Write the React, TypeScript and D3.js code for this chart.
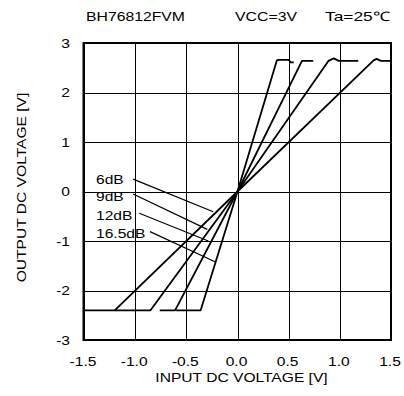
import React from "react";
import * as d3 from "d3";

// ---- data ----
const xTicks = [-1.5, -1.0, -0.5, 0.0, 0.5, 1.0, 1.5];
const yTicks = [3, 2, 1, 0, -1, -2, -3];
const seriesNames = ["6dB", "9dB", "12dB", "16.5dB"];
const curve6dB: [number, number][] = [[-1.5, -2.4], [-1.2, -2.4], [0, 0], [1.33, 2.65], [1.36, 2.68], [1.40, 2.64], [1.5, 2.64]];
const curve9dB: [number, number][] = [[-1.2, -2.4], [-0.85, -2.4], [0, 0], [0.89, 2.64], [0.94, 2.69], [0.99, 2.64], [1.18, 2.64]];
const curve12dB: [number, number][] = [[-0.76, -2.4], [-0.61, -2.4], [0, 0], [0.63, 2.64], [0.74, 2.64]];
const curve16dB: [number, number][] = [[-0.6, -2.4], [-0.36, -2.4], [0, 0], [0.385, 2.65], [0.40, 2.66], [0.50, 2.66], [0.52, 2.61], [0.55, 2.61]];
const curves = [curve6dB, curve9dB, curve12dB, curve16dB];
// leader lines: [label-side point, curve-side point] in data units
const leaders: [number, number, number, number][] = [
  [-1.02, 0.25, -0.237, -0.41],
  [-1.02, -0.05, -0.295, -0.765],
  [-0.96, -0.44, -0.285, -1.0],
  [-0.855, -0.81, -0.22, -1.42],
];
const labelY = [0.15, -0.2, -0.57, -0.93];
const titleTexts = ["BH76812FVM", "VCC=3V", "Ta=25℃"];

const W = 404, H = 396;
const L = 84, R = 391, T = 43, B = 340;
const FONT = "'Liberation Sans', Arial, sans-serif";
const SX = 1.2;

function SText({ x, y, anchor = "start", children, size = 13 }: any) {
  return (
    <text transform={`translate(${x},${y}) scale(${SX},1)`} textAnchor={anchor} fontSize={size} fontFamily={FONT} fill="#000">
      {children}
    </text>
  );
}

export default function App() {
  const x = d3.scaleLinear().domain([-1.5, 1.5]).range([L, R]);
  const y = d3.scaleLinear().domain([-3, 3]).range([B, T]);
  const line = d3.line<[number, number]>().x(d => x(d[0])).y(d => y(d[1]));

  return (
    <svg width={W} height={H} style={{ position: "absolute", left: 0, top: 0, background: "#fff" }}>
      <rect width={W} height={H} fill="#fff" />
      {/* titles */}
      <text x={86} y={20.5} fontSize={13} fontFamily={FONT} textLength={99} lengthAdjust="spacingAndGlyphs">{titleTexts[0]}</text>
      <text x={235} y={20.5} fontSize={13} fontFamily={FONT} textLength={62} lengthAdjust="spacingAndGlyphs">{titleTexts[1]}</text>
      <text x={325} y={20.5} fontSize={13} fontFamily={FONT} textLength={65} lengthAdjust="spacingAndGlyphs">{titleTexts[2]}</text>
      {/* grid */}
      {xTicks.slice(1, -1).map(t => (
        <line key={"gx" + t} x1={Math.round(x(t)) + 0.5} x2={Math.round(x(t)) + 0.5} y1={T} y2={B} stroke="#000" strokeWidth={1} />
      ))}
      {yTicks.slice(1, -1).map(t => (
        <line key={"gy" + t} x1={L} x2={R} y1={Math.round(y(t)) + 0.5} y2={Math.round(y(t)) + 0.5} stroke="#000" strokeWidth={1} />
      ))}
      {/* frame */}
      <rect x={L} y={T} width={R - L} height={B - T} fill="none" stroke="#000" strokeWidth={2} />
      <line x1={L - 0.5} x2={L - 0.5} y1={T - 1} y2={B + 1} stroke="#000" strokeWidth={2} />
      {/* curves */}
      {curves.map((c, i) => (
        <path key={"c" + i} d={line(c) || ""} fill="none" stroke="#000" strokeWidth={1.8} strokeLinejoin="round" />
      ))}
      {/* leaders */}
      {leaders.map((l, i) => (
        <line key={"l" + i} x1={x(l[0])} y1={y(l[1])} x2={x(l[2])} y2={y(l[3])} stroke="#000" strokeWidth={1.2} />
      ))}
      {seriesNames.map((n, i) => (
        <SText key={n} x={96} y={y(labelY[i]) + 0} >{n}</SText>
      ))}
      {/* y tick labels */}
      {yTicks.map(t => (
        <SText key={"yt" + t} x={70} y={y(t) + 4.5} anchor="end">{String(t)}</SText>
      ))}
      {/* x tick labels */}
      {xTicks.map(t => (
        <SText key={"xt" + t} x={x(t) - 1} y={366} anchor="middle">{t.toFixed(1)}</SText>
      ))}
      {/* axis titles */}
      <SText x={241.5} y={382} anchor="middle">INPUT DC VOLTAGE [V]</SText>
      <text transform={`translate(26,187.5) rotate(-90) scale(${SX},1)`} textAnchor="middle" fontSize={13} fontFamily={FONT}>OUTPUT DC VOLTAGE [V]</text>
    </svg>
  );
}
